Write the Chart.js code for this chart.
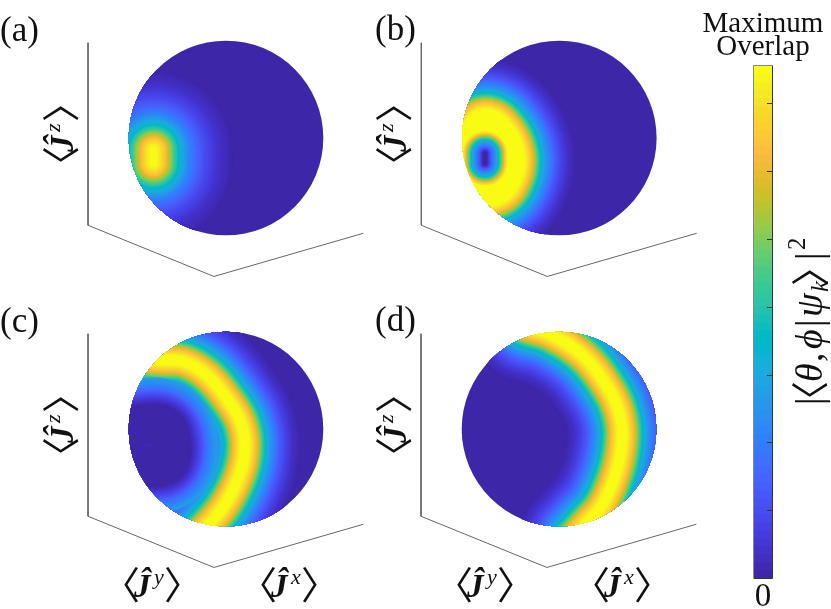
<!DOCTYPE html>
<html lang="en">
<head>
<meta charset="UTF-8">
<title>Maximum Overlap spheres</title>
<script src="https://cdn.jsdelivr.net/npm/chart.js"></script>
<style>
  body { margin: 0; background: #fff; }
  #page { position: relative; width: 831px; height: 609px; overflow: hidden; }
  canvas { position: absolute; }
</style>
</head>
<body>
<div id="page">
  <canvas id="panelA" width="370" height="295" style="left:0;top:0"></canvas>
  <canvas id="panelB" width="330" height="295" style="left:370px;top:0"></canvas>
  <canvas id="panelC" width="370" height="314" style="left:0;top:295px"></canvas>
  <canvas id="panelD" width="330" height="314" style="left:370px;top:295px"></canvas>
  <canvas id="colorbar" width="131" height="609" style="left:700px;top:0"></canvas>
</div>

<script>
// parula colormap, dark blue to yellow
var parula = ['#3e26a8','#402ab4','#422ebf','#4432cb','#4537d5','#463cde','#4741e5','#4747eb',
  '#484df0','#4852f4','#4758f8','#465efb','#4563fd','#4269fe','#3e6fff','#3875fe',
  '#327cfc','#2f81fa','#2e87f7','#2d8cf3','#2b91ef','#2796eb','#259be8','#23a0e5',
  '#20a5e3','#1ca9df','#18addb','#12b1d6','#08b5d0','#01b8ca','#02bac3','#0bbdbc',
  '#19bfb6','#24c1ae','#2cc4a7','#31c69f','#37c897','#3fca8e','#4acb84','#57cc7a',
  '#64cd6f','#72cd64','#81cc59','#8fcb4e','#9dc943','#abc739','#b9c431','#c5c22a',
  '#d1bf27','#dcbd29','#e6bb2d','#efba36','#f8ba3d','#febd3c','#fec338','#fec833',
  '#fcce2e','#f9d42b','#f7da27','#f5e227','#f5e924','#f6ef20','#f7f51b','#f9fb15'];

// crest of the bright feature on each sphere, in sphere units (radius = 1)
var crestAx = [-0.745, -0.745];
var crestAy = [-0.12, -0.26];
var crestBx = [-0.993, -0.935, -0.781, -0.558, -0.404, -0.455, -0.627, -0.815, -0.952, -0.993];
var crestBy = [-0.089, 0.134, 0.253, 0.151, -0.158, -0.466, -0.637, -0.603, -0.397, -0.089];
var holeBx = [-0.764, -0.764];
var holeBy = [-0.16, -0.26];
var crestCx = [-0.849, -0.661, -0.438, -0.199, 0.007, 0.151, 0.195, 0.151, 0.007, -0.164, -0.301];
var crestCy = [0.726, 0.709, 0.692, 0.555, 0.315, 0.075, -0.164, -0.438, -0.747, -0.969, -1.106];
var darkCx = [-1.055, -0.63, -0.61, -1.055];
var darkCy = [0.021, 0.021, -0.356, -0.356];
var crestDx = [-0.332, -0.075, 0.267, 0.507, 0.61, 0.65, 0.6, 0.455, 0.284, 0.147];
var crestDy = [1.051, 0.966, 0.733, 0.418, 0.2, -0.06, -0.4, -0.764, -0.969, -1.123];

// projected box edges behind each sphere
var boxX = [-1.418, -1.418, -0.124, 1.412];
var boxY = [0.979, -0.897, -1.423, -0.979];

var panelLabels = ['(a)', '(b)', '(c)', '(d)'];
var colorbarTicks = [1, 2, 3, 4, 5, 6, 7];
var colorbarMax = 7.55;
var colorbarTitle = ['Maximum', 'Overlap'];
var colorbarZero = '0';

var R = 97.3;
var SERIF = '"Liberation Serif", serif';
var ANGLE = '38px "Noto Sans CJK JP"';

// half width in px -> colormap value, read across the bands
var bandProfile = [[56, 0], [48, 0.04], [41, 0.1], [35, 0.17], [30, 0.26], [26, 0.33], [22, 0.43],
  [19, 0.53], [16, 0.66], [13, 0.79], [10, 0.87], [7, 0.95], [4, 1]];
var spotProfile = [[80, 0], [64, 0.05], [52, 0.12], [43, 0.2], [35, 0.29], [26, 0.45], [21, 0.58],
  [17, 0.7], [13, 0.82], [8, 0.93], [3, 1]];
var holeProfile = [[36, 1], [23, 1], [20, 0.86], [17, 0.66], [14, 0.48], [11, 0.34], [7, 0.2], [4, 0.08], [2, 0]];
var darkProfile = [[46, 0.37], [41, 0.3], [35, 0.22], [30, 0.13], [24, 0.05], [19, 0]];

function hexRgb(h) {
  return [parseInt(h.substr(1, 2), 16), parseInt(h.substr(3, 2), 16), parseInt(h.substr(5, 2), 16)];
}

function colorAt(v) {
  var p = v * (parula.length - 1), i = Math.min(Math.floor(p), parula.length - 2), t = p - i;
  var a = hexRgb(parula[i]), b = hexRgb(parula[i + 1]);
  return 'rgb(' + a.map(function (q, k) { return Math.round(q + (b[k] - q) * t); }).join(',') + ')';
}

function xy(xs, ys) {
  return xs.map(function (x, i) { return { x: x, y: ys[i] }; });
}

// stack of strokes along a crest, widest first
function strokeStack(points, profile) {
  var out = [];
  for (var k = 0; k < profile.length - 1; k++) {
    var a = profile[k], b = profile[k + 1];
    for (var w = a[0]; w > b[0]; w -= 0.5) {
      var v = a[1] + (b[1] - a[1]) * (a[0] - w) / (a[0] - b[0]);
      out.push(strokeSet(points, w * 2, colorAt(v)));
    }
  }
  var last = profile[profile.length - 1];
  out.push(strokeSet(points, last[0] * 2, colorAt(last[1])));
  return out;
}

function strokeSet(points, width, color) {
  return {
    data: points, showLine: true, pointRadius: 0, tension: 0.4, clip: false,
    borderWidth: width, borderColor: color,
    borderCapStyle: 'round', borderJoinStyle: 'round', sphereClip: true
  };
}

function angleLabel(ctx, x, y, letter) {
  ctx.textAlign = 'left';
  ctx.textBaseline = 'alphabetic';
  ctx.font = ANGLE;
  ctx.fillText('\u3008', x - 21, y + 2);
  ctx.fillText('\u3009', x + 41, y + 2);
  ctx.font = 'bold italic 33px ' + SERIF;
  ctx.fillText('\u0134', x + 11, y);
  ctx.font = 'italic 22px ' + SERIF;
  ctx.fillText(letter, x + 31, y - 13);
}

function panel(id, cx, cy, labelIdx, stacks, label) {
  var canvas = document.getElementById(id);
  var W = canvas.width, H = canvas.height;
  var sets = [{ data: xy(boxX, boxY), showLine: true, pointRadius: 0, borderWidth: 1, borderColor: '#666', clip: false },
    { data: [{ x: 0, y: 0 }], pointRadius: R, pointBackgroundColor: parula[0], pointBorderWidth: 0, showLine: false, clip: false }];
  stacks.forEach(function (s) { sets = sets.concat(s); });
  sets.reverse(); // first dataset is painted last

  return new Chart(canvas.getContext('2d'), {
    type: 'scatter',
    data: { datasets: sets },
    options: {
      responsive: false, animation: false, events: [],
      layout: { autoPadding: false, padding: 0 },
      plugins: { legend: { display: false }, tooltip: { enabled: false } },
      scales: {
        x: { type: 'linear', display: false, min: -cx / R, max: (W - cx) / R },
        y: { type: 'linear', display: false, min: -(H - cy) / R, max: cy / R }
      }
    },
    plugins: [{
      id: 'sphereClip',
      beforeDatasetDraw: function (chart, args) {
        if (!chart.data.datasets[args.index].sphereClip) return;
        var c = chart.ctx;
        c.save();
        c.beginPath();
        c.arc(chart.scales.x.getPixelForValue(0), chart.scales.y.getPixelForValue(0), R, 0, Math.PI * 2);
        c.clip();
      },
      afterDatasetDraw: function (chart, args) {
        if (chart.data.datasets[args.index].sphereClip) chart.ctx.restore();
      },
      afterDraw: function (chart) {
        var c = chart.ctx;
        c.save();
        c.fillStyle = '#111';
        c.textAlign = 'left';
        c.font = '35px ' + SERIF;
        c.fillText(panelLabels[labelIdx], label.x, label.y);
        // vertical axis label
        c.save();
        c.translate(cx - 153, cy + 25);
        c.rotate(-Math.PI / 2);
        angleLabel(c, 0, 0, 'z');
        c.restore();
        if (label.bottom) {
          angleLabel(c, cx - 103, H - 12, 'y');
          angleLabel(c, cx + 34, H - 12, 'x');
        }
        c.restore();
      }
    }]
  });
}

panel('panelA', 226, 138, 0, [strokeStack(xy(crestAx, crestAy), spotProfile)], { x: 0, y: 41 });
panel('panelB', 189.3, 138, 1, [
  strokeStack(xy(crestBx, crestBy), bandProfile),
  strokeStack(xy(holeBx, holeBy), holeProfile)
], { x: 5, y: 40 });
panel('panelC', 226, 134, 2, [
  strokeStack(xy(crestCx, crestCy), bandProfile),
  strokeStack(xy(darkCx, darkCy), darkProfile)
], { x: 0, y: 37, bottom: true });
panel('panelD', 189, 134, 3, [strokeStack(xy(crestDx, crestDy), bandProfile)], { x: 5, y: 36, bottom: true });

// colorbar: one row per colormap entry, bottom row first
new Chart(document.getElementById('colorbar').getContext('2d'), {
  type: 'bar',
  data: {
    labels: parula.map(function (c, i) { return i; }),
    datasets: [{
      data: parula.map(function () { return 1; }),
      backgroundColor: parula,
      barPercentage: 1, categoryPercentage: 1, borderWidth: 0
    }]
  },
  options: {
    indexAxis: 'y', responsive: false, animation: false, events: [],
    layout: { autoPadding: false, padding: { left: 54, right: 58, top: 66, bottom: 31 } },
    plugins: { legend: { display: false }, tooltip: { enabled: false } },
    scales: {
      x: { type: 'linear', display: false, min: 0, max: 1 },
      y: { type: 'category', display: false, reverse: true }
    }
  },
  plugins: [{
    id: 'colorbarFrame',
    afterDraw: function (chart) {
      var c = chart.ctx, a = chart.chartArea;
      c.save();
      c.lineWidth = 1;
      c.strokeStyle = '#888';
      c.beginPath();
      c.moveTo(a.left - 0.5, a.bottom + 0.5); c.lineTo(a.left - 0.5, a.top - 0.5); c.lineTo(a.right, a.top - 0.5);
      c.stroke();
      c.strokeStyle = '#333';
      c.beginPath();
      c.moveTo(a.right - 0.5, a.top); c.lineTo(a.right - 0.5, a.bottom + 0.5); c.lineTo(a.left, a.bottom + 0.5);
      c.stroke();
      colorbarTicks.forEach(function (t) {
        var y = Math.round(chart.scales.y.getPixelForDecimal(t / colorbarMax)) + 0.5;
        c.beginPath(); c.moveTo(a.right - 6, y); c.lineTo(a.right, y); c.stroke();
      });

      c.fillStyle = '#111';
      c.textAlign = 'center';
      c.font = '29px ' + SERIF;
      c.fillText(colorbarTitle[0], 63, 32);
      c.fillText(colorbarTitle[1], 63, 55);
      c.font = '33px ' + SERIF;
      c.fillText(colorbarZero, 63, 606);

      // |<theta, phi|psi_k>|^2 running up the right side
      c.translate(122, 405);
      c.rotate(-Math.PI / 2);
      c.textAlign = 'left';
      var big = '38px ' + SERIF, ital = 'italic 38px ' + SERIF;
      [['|', 0, 0, big], ['\u3008', -14, 2, ANGLE], ['\u03B8', 23, 0, ital], [',', 43, 0, big],
       ['\u03D5', 56, 0, ital], ['|', 78, 0, big], ['\u03C8', 88, 0, ital], ['k', 113, 6, 'italic 25px ' + SERIF],
       ['\u3009', 119, 2, ANGLE], ['|', 145, 0, big], ['2', 155, -17, '25px ' + SERIF]
      ].forEach(function (p) {
        c.font = p[3];
        c.fillText(p[0], p[1], p[2]);
      });
      c.restore();
    }
  }]
});
</script>
</body>
</html>
